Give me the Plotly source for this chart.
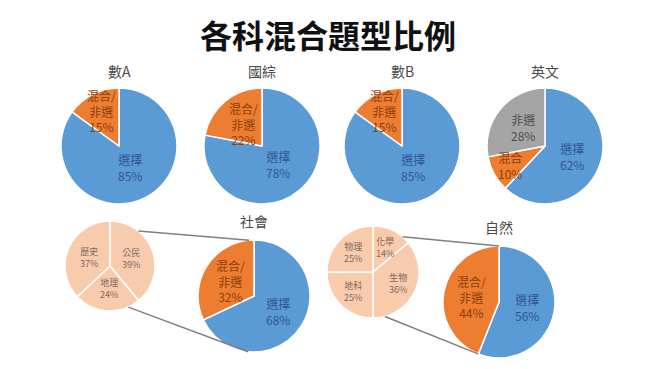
import math
import plotly.graph_objects as go

W, H = 656, 369

chart_title = "各科混合題型比例"

# ---- data ----
titles = ["數A", "國綜", "數B", "英文", "社會", "自然"]

labels_mathA = ["選擇", "混合/非選"]
values_mathA = [85, 15]
labels_chinese = ["選擇", "混合/非選"]
values_chinese = [78, 22]
labels_mathB = ["選擇", "混合/非選"]
values_mathB = [85, 15]
labels_english = ["選擇", "混合", "非選"]
values_english = [62, 10, 28]

labels_social = ["選擇", "混合/非選"]
values_social = [68, 32]
labels_social_sub = ["公民", "地理", "歷史"]
values_social_sub = [39, 24, 37]

labels_science = ["選擇", "混合/非選"]
values_science = [56, 44]
labels_science_sub = ["化學", "生物", "地科", "物理"]
values_science_sub = [14, 36, 25, 25]

# ---- styles ----
FONT = "Noto Sans CJK TC"
fill = {"選擇": "#5B9BD5", "混合/非選": "#ED7D31", "混合": "#ED7D31", "非選": "#A5A5A5"}
ink = {"選擇": "#2F5597", "混合/非選": "#8E3F0C", "混合": "#8E3F0C", "非選": "#505050"}
SUB_FILL = "#F8CBAD"
SUB_INK = "#7F6A5C"


def px(x):
    return x / W


def py(y):
    return 1 - y / H


fig = go.Figure()
annotations = []
shapes = []


def add_pie(labels, values, cx, cy, r, sub=False, fsize=12, f_sub=0.55):
    colors = [SUB_FILL if sub else fill[l] for l in labels]
    fig.add_trace(go.Pie(
        labels=labels, values=values, sort=False, direction="clockwise", rotation=0,
        marker=dict(colors=colors, line=dict(color="white", width=1.5)),
        textinfo="none", hoverinfo="label+percent", showlegend=False,
        domain=dict(x=[px(cx - r), px(cx + r)], y=[py(cy + r), py(cy - r)]),
    ))
    total = sum(values)
    cum = 0
    for l, v in zip(labels, values):
        frac = v / total
        a = math.radians((cum + v / 2) / total * 360)
        cum += v
        if sub:
            f = f_sub
        elif frac < 0.2:
            f = 0.68
        elif frac > 0.75:
            f = 0.42
        else:
            f = 0.5
        x = cx + f * r * math.sin(a)
        y = cy - f * r * math.cos(a)
        txt = l.replace("/", "/<br>") + "<br>" + f"{round(frac * 100)}%"
        annotations.append(dict(
            x=px(x), y=py(y), xref="paper", yref="paper", text=txt, showarrow=False,
            font=dict(family=FONT, size=fsize, color=SUB_INK if sub else ink[l]),
            xanchor="center", yanchor="middle",
        ))


def add_title(text, x, y, size=14):
    annotations.append(dict(
        x=px(x), y=py(y), xref="paper", yref="paper", text=text, showarrow=False,
        font=dict(family=FONT, size=size, color="#4A4A4A"), xanchor="center", yanchor="middle",
    ))


def connector(c1, r1, a1, c2, r2, a2):
    x0 = c1[0] + r1 * math.sin(math.radians(a1))
    y0 = c1[1] - r1 * math.cos(math.radians(a1))
    x1 = c2[0] + r2 * math.sin(math.radians(a2))
    y1 = c2[1] - r2 * math.cos(math.radians(a2))
    shapes.append(dict(type="line", xref="paper", yref="paper",
                       x0=px(x0), y0=py(y0), x1=px(x1), y1=py(y1),
                       line=dict(color="#7F7F7F", width=1.5)))


# top row
R_TOP = 58
top = [(labels_mathA, values_mathA, 119), (labels_chinese, values_chinese, 262),
       (labels_mathB, values_mathB, 402), (labels_english, values_english, 545)]
for (labs, vals, cx), t in zip(top, titles[:4]):
    add_pie(labs, vals, cx, 146, R_TOP)
    add_title(t, cx, 71)

# social
add_pie(labels_social_sub, values_social_sub, 110, 266, 45, sub=True, fsize=9, f_sub=0.5)
add_pie(labels_social, values_social, 254, 296, 56)
add_title(titles[4], 254, 221)
connector((110, 266), 45, 39, (254, 296), 56, 355)
connector((110, 266), 45, 156, (254, 296), 56, 186)

# science
add_pie(labels_science_sub, values_science_sub, 373, 272, 46, sub=True, fsize=9, f_sub=0.6)
add_pie(labels_science, values_science, 499, 302, 56)
add_title(titles[5], 499, 227)
connector((373, 272), 46, 40, (499, 302), 56, 0)
connector((373, 272), 46, 165, (499, 302), 56, 202)

annotations.append(dict(
    x=px(328), y=py(34), xref="paper", yref="paper", text="<b>" + chart_title + "</b>",
    showarrow=False, font=dict(family=FONT, size=32, color="#111111"),
    xanchor="center", yanchor="middle",
))

fig.update_layout(
    width=W, height=H, margin=dict(l=0, r=0, t=0, b=0),
    paper_bgcolor="white", plot_bgcolor="white",
    annotations=annotations, shapes=shapes, showlegend=False,
)

fig.write_html("out.html", config={"displayModeBar": False},
               post_script="document.body.style.margin='0';document.body.style.overflow='hidden';")
